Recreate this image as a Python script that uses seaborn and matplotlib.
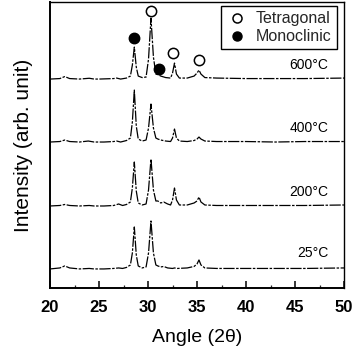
import matplotlib
matplotlib.use("Agg")
import matplotlib.pyplot as plt
from matplotlib.lines import Line2D
from matplotlib.ticker import MultipleLocator
import seaborn as sns
import pandas as pd

# XRD patterns (angle in 2-theta, intensity above each trace's baseline)
angle_600 = [20.0, 21.0, 21.5, 22.0, 23.0, 24.0, 24.5, 25.0, 26.5, 26.8, 27.2, 27.8, 28.2, 28.4, 28.6, 28.8, 29.0, 29.4,
             29.8, 30.05, 30.3, 30.55, 30.8, 31.0, 31.3, 31.8, 32.3, 32.5, 32.7, 32.9, 33.2, 34.0, 34.7, 35.0, 35.2, 35.4,
             35.8, 37.0, 40.0, 43.0, 46.0, 50.0]
int_600 = [0.0, 0.5, 2.5, 0.5, 0.0, 0.8, 0.0, 0.0, 0.5, 1.0, 0.0, 1.0, 3.0, 14.0, 32.0, 12.0, 3.0, 1.5,
           2.0, 20.0, 61.0, 22.0, 5.0, 4.5, 3.0, 1.5, 1.0, 6.0, 16.0, 5.0, 1.0, 1.0, 3.0, 6.0, 9.0, 5.0,
           1.5, 1.0, 0.5, 0.5, 0.5, 1.0]

angle_400 = [20.0, 21.0, 21.5, 22.0, 23.0, 23.9, 24.5, 25.5, 26.5, 26.8, 27.2, 27.8, 28.2, 28.4, 28.6, 28.8, 29.0, 29.4,
             29.8, 30.05, 30.3, 30.55, 30.8, 31.0, 31.3, 31.8, 32.3, 32.5, 32.7, 32.9, 33.2, 34.0, 34.7, 35.0, 35.2, 35.4,
             35.8, 37.0, 40.0, 43.0, 46.0, 50.0]
int_400 = [0.0, 0.5, 2.0, 0.5, 0.0, 1.0, 0.0, 0.0, 0.5, 1.0, 0.0, 1.5, 4.0, 20.0, 52.0, 16.0, 3.0, 1.0,
           2.0, 14.0, 38.0, 14.0, 4.0, 3.0, 2.0, 1.0, 0.5, 4.0, 13.0, 4.0, 1.0, 0.5, 1.5, 3.0, 5.0, 3.0,
           1.0, 0.5, 0.5, 0.0, 0.5, 0.5]

angle_200 = [20.0, 21.0, 21.5, 22.0, 23.0, 24.0, 24.5, 25.5, 26.5, 27.0, 27.4, 27.8, 28.2, 28.4, 28.6, 28.8, 29.0, 29.4,
             29.8, 30.05, 30.3, 30.55, 30.8, 31.0, 31.3, 31.6, 32.0, 32.3, 32.5, 32.7, 32.9, 33.2, 34.0, 34.7, 35.0, 35.2,
             35.4, 35.8, 37.0, 40.0, 43.0, 46.0, 50.0]
int_200 = [0.0, 0.5, 1.5, 0.5, 0.0, 0.5, 0.0, 0.0, 0.5, 2.0, 0.5, 1.5, 4.0, 18.0, 44.0, 15.0, 3.0, 1.0,
           2.0, 16.0, 47.0, 16.0, 5.0, 5.0, 3.0, 4.0, 2.0, 1.0, 6.0, 18.0, 6.0, 1.0, 1.0, 3.0, 5.0, 9.0,
           4.0, 1.0, 0.5, 0.5, 0.5, 0.5, 1.0]

angle_25 = [20.0, 21.0, 21.5, 22.0, 23.0, 24.0, 24.5, 25.5, 26.5, 27.0, 27.4, 27.8, 28.2, 28.4, 28.6, 28.8, 29.0, 29.4,
            29.8, 30.05, 30.3, 30.55, 30.8, 31.0, 31.3, 31.6, 32.0, 32.5, 32.7, 33.0, 34.0, 34.7, 35.0, 35.2, 35.4, 35.8,
            37.0, 40.0, 43.0, 46.0, 50.0]
int_25 = [0.0, 1.0, 3.0, 1.0, 0.0, 0.5, 0.0, 0.0, 0.5, 1.0, 0.5, 1.5, 4.0, 16.0, 42.0, 14.0, 3.0, 1.0,
          2.0, 16.0, 48.0, 16.0, 4.0, 3.0, 2.0, 2.5, 1.0, 0.5, 1.0, 0.5, 1.0, 2.5, 5.0, 9.0, 4.0, 1.0,
          0.5, 0.5, 0.5, 0.5, 1.0]

temperatures = ["600°C", "400°C", "200°C", "25°C"]
baselines = [209, 146, 82, 19]
label_heights = [223, 160, 96, 35]

# phase markers on the 600°C pattern
tetragonal_angle = [30.3, 32.55, 35.2]
tetragonal_y = [277, 235, 228]
monoclinic_angle = [28.57, 31.1]
monoclinic_y = [250, 219]

sns.set_theme(style="ticks")
plt.rcParams["font.family"] = ["Liberation Sans", "DejaVu Sans"]

fig = plt.figure(figsize=(3.55, 3.52), dpi=100)
ax = fig.add_axes([0.141, 0.182, 0.828, 0.812])

traces = [(angle_600, int_600), (angle_400, int_400), (angle_200, int_200), (angle_25, int_25)]
for (ang, inten), base, label, ly in zip(traces, baselines, temperatures, label_heights):
    df = pd.DataFrame({"angle": ang, "intensity": [v + base for v in inten]})
    sns.lineplot(data=df, x="angle", y="intensity", ax=ax, color="black", linewidth=0.9,
                 sort=False, estimator=None, linestyle=(0, (9, 1.2, 2, 1.2)))
    ax.text(48.4, ly, label, ha="right", va="center", fontsize=10, color="black")

sns.scatterplot(x=tetragonal_angle, y=tetragonal_y, ax=ax, marker="o", s=55,
                facecolor="white", edgecolor="black", linewidth=1.1, zorder=5)
sns.scatterplot(x=monoclinic_angle, y=monoclinic_y, ax=ax, marker="o", s=55,
                color="black", edgecolor="black", linewidth=1.1, zorder=5)

ax.set_xlim(20, 50)
ax.set_ylim(0, 286)
ax.xaxis.set_major_locator(MultipleLocator(5))
ax.xaxis.set_minor_locator(MultipleLocator(2.5))
ax.tick_params(axis="x", which="major", direction="in", length=5, width=1.1, labelsize=12, pad=9, colors="black")
ax.tick_params(axis="x", which="minor", direction="in", length=2.5, width=0.9)
for lbl in ax.get_xticklabels():
    lbl.set_fontweight("bold")
ax.set_yticks([])
for sp in ax.spines.values():
    sp.set_color("black")
    sp.set_linewidth(1.0)
ax.spines["left"].set_linewidth(1.4)
ax.spines["bottom"].set_linewidth(1.4)

ax.set_xlabel("Angle (2θ)", fontsize=14, labelpad=10, color="black")
ax.set_ylabel("Intensity (arb. unit)", fontsize=15, labelpad=12, color="black")

handles = [
    Line2D([], [], marker="o", linestyle="none", markersize=6.5, markerfacecolor="white",
           markeredgecolor="black", markeredgewidth=1.1, label="Tetragonal"),
    Line2D([], [], marker="o", linestyle="none", markersize=6.5, markerfacecolor="black",
           markeredgecolor="black", label="Monoclinic"),
]
leg = ax.legend(handles=handles, loc="upper right", bbox_to_anchor=(0.975, 0.985), fontsize=11.5,
                frameon=True, fancybox=False, edgecolor="black", framealpha=1,
                handlelength=1.4, handletextpad=0.5, borderpad=0.3, labelspacing=0.2,
                borderaxespad=0.0)
leg.get_frame().set_linewidth(1.0)

fig.savefig("out.png", dpi=100)
